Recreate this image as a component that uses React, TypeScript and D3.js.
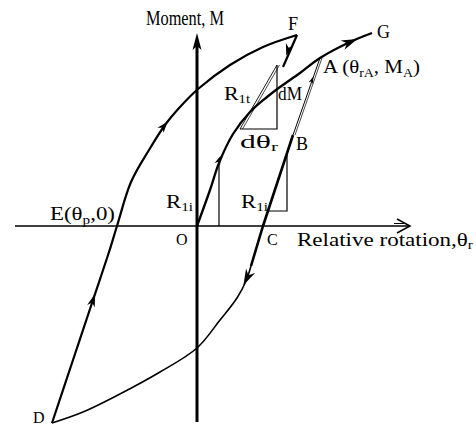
import React from 'react';
import * as d3 from 'd3';

const W = 476;
const H = 426;

// axis extents (relative rotation θr, moment M), arbitrary units
const thetaExtent: [number, number] = [-18.2, 21.3];
const momentExtent: [number, number] = [-19.6, 19.3];

// primary loading O -> A -> G
const loadingOAG: [number, number][] = [
  [0, 0], [1.3, 3.6], [2.2, 6.3], [3.6, 9.2], [5.3, 11.4], [7.0, 12.9],
  [8.3, 13.9], [10.3, 15.3], [12.3, 16.8], [15.3, 18.4], [17.5, 19.3],
];
// reloading B -> A (thin)
const pathBA: [number, number][] = [[9.6, 9.1], [12.3, 16.8]];
// unloading B -> C and just past C
const pathBC: [number, number][] = [[9.6, 9.1], [6.6, 0], [5.4, -4.0]];
// unloading C -> D
const pathCD: [number, number][] = [
  [5.4, -4.0], [4.9, -5.5], [4.0, -7.2], [2.3, -9.4], [0, -12.2],
  [-3.7, -14.6], [-7.9, -16.9], [-11.4, -18.6], [-14.5, -19.7],
];
// reloading D -> E -> F
const pathDEF: [number, number][] = [
  [-14.5, -19.7], [-12.4, -13.4], [-10.4, -7.4], [-8.8, -2.6], [-8.0, 0],
  [-6.6, 4.4], [-4.8, 7.6], [-3.2, 10.1], [-1.7, 11.9], [0.1, 13.7],
  [3.3, 16.1], [6.6, 17.9], [10.0, 19.1],
];
// unloading from F
const pathF: [number, number][] = [[10.0, 19.1], [8.6, 15.9]];

// tangent stiffness triangle R1t
const tangentR1t: [number, number][] = [[4.3, 9.7], [8.0, 16.1]];
const triR1t: [number, number][] = [[4.3, 9.7], [8.0, 9.7], [8.0, 16.1]];
// initial stiffness triangle at C
const triR1iC: [number, number][] = [[7.1, 1.5], [9.0, 1.5], [9.0, 7.4]];
// vertical drop under the O-A curve
const dropO: [number, number][] = [[2.2, 6.3], [2.2, 0]];

// arrowheads: position, direction target, length, half width
const arrows: { at: [number, number]; to: [number, number]; len: number; half: number }[] = [
  { at: [15.3, 18.4], to: [17.5, 19.3], len: 16, half: 5 },
  { at: [2.2, 6.6], to: [3.0, 8.6], len: 9, half: 3 },
  { at: [11.5, 14.6], to: [12.3, 16.8], len: 7, half: 2.5 },
  { at: [5.0, -5.2], to: [4.0, -7.2], len: 16, half: 5 },
  { at: [-10.4, -7.4], to: [-8.8, -2.6], len: 13, half: 4 },
  { at: [-3.3, 10.0], to: [-1.7, 11.9], len: 11, half: 4 },
  { at: [9.1, 17.6], to: [8.6, 15.9], len: 12, half: 4 },
];

const x = d3.scaleLinear().domain(thetaExtent).range([15, 410]);
const y = d3.scaleLinear().domain(momentExtent).range([422, 33]);

const smooth = d3
  .line<[number, number]>()
  .x((d) => x(d[0]))
  .y((d) => y(d[1]))
  .curve(d3.curveCatmullRom.alpha(0.5));
const straight = d3
  .line<[number, number]>()
  .x((d) => x(d[0]))
  .y((d) => y(d[1]));

function arrowPath(a: { at: [number, number]; to: [number, number]; len: number; half: number }) {
  const px = x(a.at[0]);
  const py = y(a.at[1]);
  const dx = x(a.to[0]) - px;
  const dy = y(a.to[1]) - py;
  const m = Math.hypot(dx, dy);
  const ux = dx / m;
  const uy = dy / m;
  const nx = -uy;
  const ny = ux;
  const tx = px + (ux * a.len) / 2;
  const ty = py + (uy * a.len) / 2;
  const bx = px - (ux * a.len) / 2;
  const by = py - (uy * a.len) / 2;
  const kx = bx + ux * a.len * 0.3;
  const ky = by + uy * a.len * 0.3;
  return `M${tx},${ty}L${bx + nx * a.half},${by + ny * a.half}L${kx},${ky}L${bx - nx * a.half},${by - ny * a.half}Z`;
}

const FONT = "'Liberation Serif', 'DejaVu Serif', serif";

export default function App() {
  const x0 = x(0);
  const y0 = y(0);
  const xEnd = x(thetaExtent[1]);
  const yTop = y(momentExtent[1]);
  const sub = { fontSize: 12 };
  return (
    <svg
      width={W}
      height={H}
      viewBox={`0 0 ${W} ${H}`}
      style={{ position: 'absolute', left: 0, top: 0, background: '#fff' }}
      fontFamily={FONT}
    >
      <rect width={W} height={H} fill="#fff" />
      {/* x axis */}
      <line x1={x(thetaExtent[0])} y1={y0} x2={xEnd} y2={y0} stroke="#000" strokeWidth={1.5} />
      <path
        d={`M${xEnd - 13},${y0 - 7}L${xEnd},${y0}L${xEnd - 13},${y0 + 7}`}
        fill="none"
        stroke="#000"
        strokeWidth={1.5}
      />
      <line x1={xEnd - 16} y1={y0 - 2.5} x2={xEnd - 6} y2={y0 - 2.5} stroke="#000" strokeWidth={1} />
      {/* y axis */}
      <line x1={x0} y1={y(momentExtent[0])} x2={x0} y2={yTop + 10} stroke="#000" strokeWidth={3} />
      <path
        d={`M${x0},${yTop}L${x0 + 4.5},${yTop + 17}L${x0},${yTop + 13}L${x0 - 4.5},${yTop + 17}Z`}
        fill="#000"
      />

      {/* helper triangles */}
      <path d={straight(dropO) || ''} fill="none" stroke="#000" strokeWidth={1.2} />
      <path d={straight(triR1t) || ''} fill="none" stroke="#000" strokeWidth={1.2} />
      <path d={straight(tangentR1t) || ''} fill="none" stroke="#000" strokeWidth={0.9} />
      <path
        d={straight(tangentR1t) || ''}
        fill="none"
        stroke="#000"
        strokeWidth={0.7}
        transform="translate(2.5,0)"
      />
      <path d={straight(triR1iC) || ''} fill="none" stroke="#000" strokeWidth={1.2} />

      {/* hysteresis branches */}
      <path d={smooth(loadingOAG) || ''} fill="none" stroke="#000" strokeWidth={2.3} />
      <path d={straight(pathBA) || ''} fill="none" stroke="#000" strokeWidth={1} />
      <path d={straight(pathBA) || ''} fill="none" stroke="#000" strokeWidth={0.7} transform="translate(2,0)" />
      <path d={straight(pathBC) || ''} fill="none" stroke="#000" strokeWidth={2.6} />
      <path d={smooth(pathCD) || ''} fill="none" stroke="#000" strokeWidth={1.6} />
      <path d={smooth(pathDEF) || ''} fill="none" stroke="#000" strokeWidth={2.2} />
      <path d={straight(pathF) || ''} fill="none" stroke="#000" strokeWidth={2.2} />

      {arrows.map((a, i) => (
        <path key={i} d={arrowPath(a)} fill="#000" />
      ))}

      {/* labels */}
      <g fill="#000" fontSize={18}>
        <text x={146} y={25} fontSize={20} textLength={78} lengthAdjust="spacingAndGlyphs">
          Moment, M
        </text>
        <text x={288} y={30}>F</text>
        <text x={377} y={38}>G</text>
        <text x={323} y={73} textLength={97} lengthAdjust="spacingAndGlyphs">
          A (θ<tspan dy={4} style={sub}>rA</tspan>
          <tspan dy={-4}>, M</tspan>
          <tspan dy={4} style={sub}>A</tspan>
          <tspan dy={-4}>)</tspan>
        </text>
        <text x={224} y={100} textLength={26} lengthAdjust="spacingAndGlyphs">
          R<tspan dy={3} style={sub}>1t</tspan>
        </text>
        <text x={278} y={100} textLength={24} lengthAdjust="spacingAndGlyphs">
          dM
        </text>
        <text x={240} y={148} textLength={38} lengthAdjust="spacingAndGlyphs">
          dθ<tspan dy={3} style={sub}>r</tspan>
        </text>
        <text x={296} y={150}>B</text>
        <text x={166} y={208} textLength={27} lengthAdjust="spacingAndGlyphs">
          R<tspan dy={3} style={sub}>1i</tspan>
        </text>
        <text x={241} y={208} textLength={27} lengthAdjust="spacingAndGlyphs">
          R<tspan dy={3} style={sub}>1i</tspan>
        </text>
        <text x={50} y={220} textLength={65} lengthAdjust="spacingAndGlyphs">
          E(θ<tspan dy={4} style={sub}>p</tspan>
          <tspan dy={-4}>,0)</tspan>
        </text>
        <text x={176} y={245} fontSize={16}>O</text>
        <text x={267} y={245} fontSize={16}>C</text>
        <text x={297} y={246} textLength={176} lengthAdjust="spacingAndGlyphs">
          Relative rotation,θ<tspan dy={3} style={sub}>r</tspan>
        </text>
        <text x={33} y={423} fontSize={16}>D</text>
      </g>
    </svg>
  );
}
